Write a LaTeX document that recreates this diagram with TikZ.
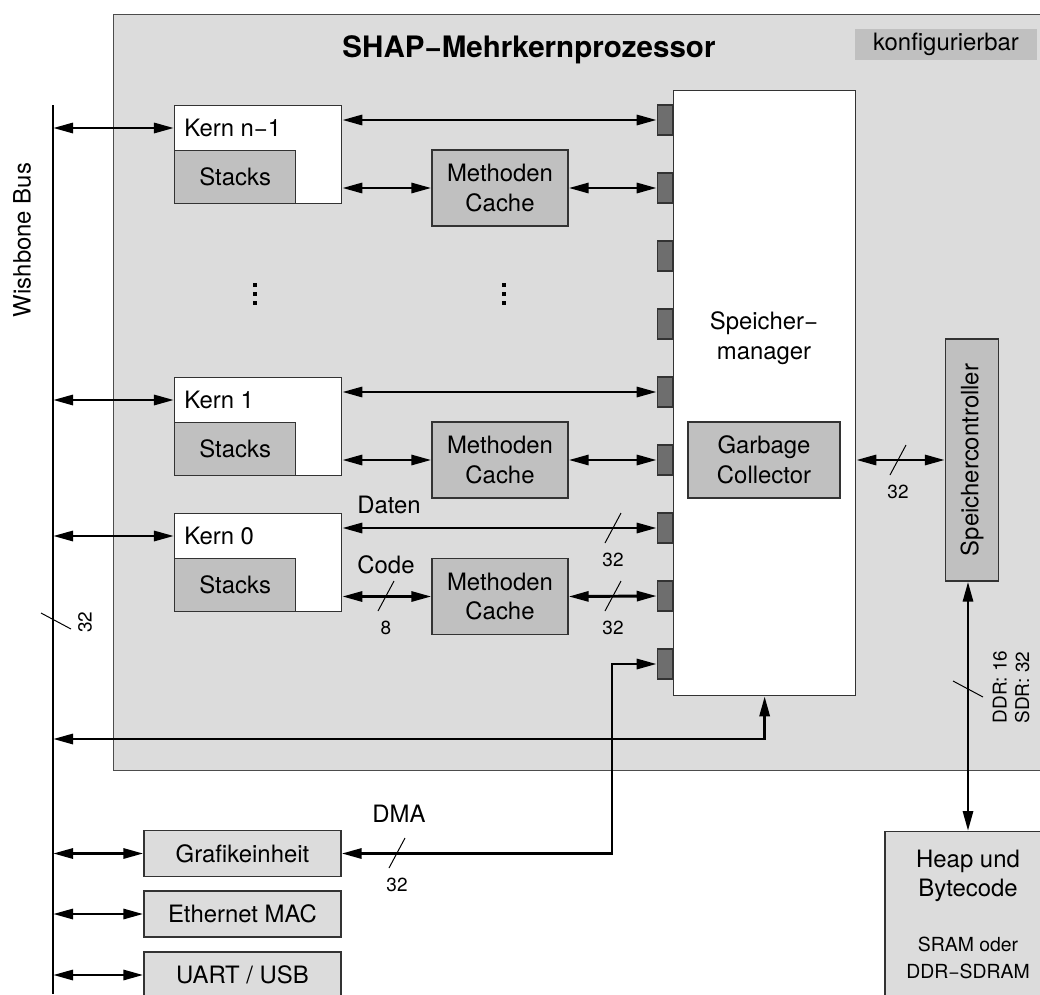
\documentclass[tikz,border=0pt]{standalone}
\usepackage{fontspec}
\setmainfont{TeX Gyre Heros}
\usepackage{graphicx}
\usetikzlibrary{arrows.meta,positioning}
\definecolor{shapBg}{HTML}{DCDCDC}
\definecolor{shapMid}{HTML}{C0C0C0}
\definecolor{shapPort}{HTML}{6E6E6E}
\newcommand{\pxu}{0.025cm}

\begin{document}
\begin{tikzpicture}[
  x=\pxu,y=-\pxu,
  every node/.style={font=\fontsize{17}{21}\selectfont},
  blk/.style={draw=black!80,line width=0.9pt,inner sep=0pt,align=center},
  core/.style={blk,fill=white,minimum width=167*\pxu,minimum height=98*\pxu},
  sub/.style={blk,fill=shapMid},
  stk/.style={sub,minimum width=121*\pxu,minimum height=53*\pxu},
  mcache/.style={sub,minimum width=136*\pxu,minimum height=76*\pxu},
  port/.style={blk,fill=shapPort,minimum width=15*\pxu,minimum height=30*\pxu},
  periph/.style={blk,fill=shapBg,minimum width=197*\pxu,minimum height=46*\pxu},
  barr/.style={line width=2.1pt,
    {Triangle[length=0.5cm,width=0.25cm]}-{Triangle[length=0.5cm,width=0.25cm]}},
  slash/.style={line width=0.7pt},
  bw/.style={font=\fontsize{13.5}{16}\selectfont,inner sep=0pt}
]
  \useasboundingbox (0,0) rectangle (1040,994);
  \clip (0,0) rectangle (1040,994);

  % ── Chip frame ────────────────────────────────────────────────────────────
  \node[blk,fill=shapBg,draw=black!70,anchor=north west,
        minimum width=945*\pxu,minimum height=756*\pxu] (chip) at (113,14) {};
  \node[font=\fontsize{21}{25}\selectfont\bfseries] (title) at (529,50) {SHAP−Mehrkernprozessor};
  \node[fill=shapMid,inner sep=0pt,minimum width=182*\pxu,minimum height=31*\pxu]
       (konf) at (946,44.5) {konfigurierbar};

  % ── Wishbone bus ──────────────────────────────────────────────────────────
  \coordinate (busTop) at (53,105);
  \coordinate (busBot) at (53,994);
  \draw[line width=2.1pt] (busTop) -- (busBot);
  \node[rotate=90] (wbLbl) at (22,240) {Wishbone Bus};

  % ── Cores with stacks and method caches ───────────────────────────────────
  \foreach \n/\t/\lbl in {kn/105/Kern n−1, k1/377/Kern 1, k0/513/Kern 0} {
    \node[core,anchor=north west] (\n) at (174,\t) {};
    \node[stk,anchor=south west] (\n-stk) at (\n.south west) {Stacks};
    \node[anchor=west,inner sep=0pt] (\n-lbl) at ([shift={(10,23)}]\n.north west) {\lbl};
  }
  \node[mcache] (kn-mc) at (500,188) {Methoden\\Cache};
  \node[mcache] (k1-mc) at (500,460) {Methoden\\Cache};
  \node[mcache] (k0-mc) at (500,596.5) {Methoden\\Cache};

  \foreach \x in {255,504}
    \foreach \d in {-9,0,9}
      \fill (\x-2,294+\d-2) rectangle ++(4,4);

  % ── Memory manager ────────────────────────────────────────────────────────
  \node[blk,fill=white,anchor=north west,minimum width=182*\pxu,minimum height=605*\pxu]
       (sm) at (673,90) {};
  \node (smLbl) at (764,338) [align=center] {Speicher−\\manager};
  \node[sub,minimum width=152*\pxu,minimum height=76*\pxu] (gc) at (764,460) {Garbage\\Collector};
  \foreach \i in {0,...,8}
    \node[port,anchor=east] (p\i) at (673,120+68*\i) {};

  \node[sub,minimum width=53*\pxu,minimum height=242*\pxu] (sc) at (972,460)
       {\rotatebox{90}{Speichercontroller}};

  % ── Core connections ──────────────────────────────────────────────────────
  \draw[barr] (kn.east |- p0) -- (p0.west);
  \draw[barr] (kn.east |- kn-mc) -- (kn-mc.west);
  \draw[barr] (kn-mc.east) -- (p1.west);
  \draw[barr] (k1.east |- p4) -- (p4.west);
  \draw[barr] (k1.east |- k1-mc) -- (k1-mc.west);
  \draw[barr] (k1-mc.east) -- (p5.west);
  \draw[barr] (k0.east |- p6) -- (p6.west);
  \draw[barr] (k0.east |- k0-mc) -- (k0-mc.west);
  \draw[barr] (k0-mc.east) -- (p7.west);
  \foreach \n in {kn,k1,k0}
    \draw[barr] (busTop |- \n-lbl) -- (\n.west |- \n-lbl);
  \draw[barr] (sm.east |- gc) -- (sc.west);

  \node (daten) at (389,505) {Daten};
  \node (code) at (386,565) {Code};

  % ── Peripherals ───────────────────────────────────────────────────────────
  \node[periph] (gfx)  at (242.5,853.5) {Grafikeinheit};
  \node[periph] (eth)  at (242.5,914)   {Ethernet MAC};
  \node[periph] (uart) at (242.5,975)   {UART / USB};
  \foreach \b in {gfx,eth,uart}
    \draw[barr] (busTop |- \b) -- (\b.west);

  \coordinate (retY) at (0,739);
  \draw[barr] (busTop |- retY) -| (sm.south);
  \coordinate (dmaX) at (612,0);
  \draw[barr] (gfx.east) -| (dmaX |- p8) -- (p8.west);
  \node (dma) at (399,814) {DMA};

  % ── External memory ───────────────────────────────────────────────────────
  \node[blk,fill=shapBg,anchor=north,minimum width=166*\pxu,minimum height=180*\pxu]
       (heap) at (968,831) {};
  \node[align=center] (heapLbl) at (968,876) {Heap und\\Bytecode};
  \node[align=center,font=\fontsize{13.8}{19.2}\selectfont] (heapSub) at (968,958) {SRAM oder\\DDR−SDRAM};
  \draw[barr] (heap.north |- sc.south) -- (heap.north);

  % ── Bus widths ────────────────────────────────────────────────────────────
  \foreach \x/\y/\w [count=\i] in {613/528/32,613/596/32,386/596/8,397/853/32,898/460/32} {
    \draw[slash] (\x+8,\y-15) -- (\x-8,\y+15);
    \node[bw] (bw\i) at (\x,\y+32) {\w};
  }
  \draw[slash] (41,613) -- (71,629);
  \node[bw,rotate=90] (bwBus) at (85,622) {32};
  \draw[slash] (953,681) -- (983,697);
  \node[bw,rotate=90,align=left] (bwMem) at (1011,687) {DDR: 16\\SDR: 32};
\end{tikzpicture}
\end{document}
